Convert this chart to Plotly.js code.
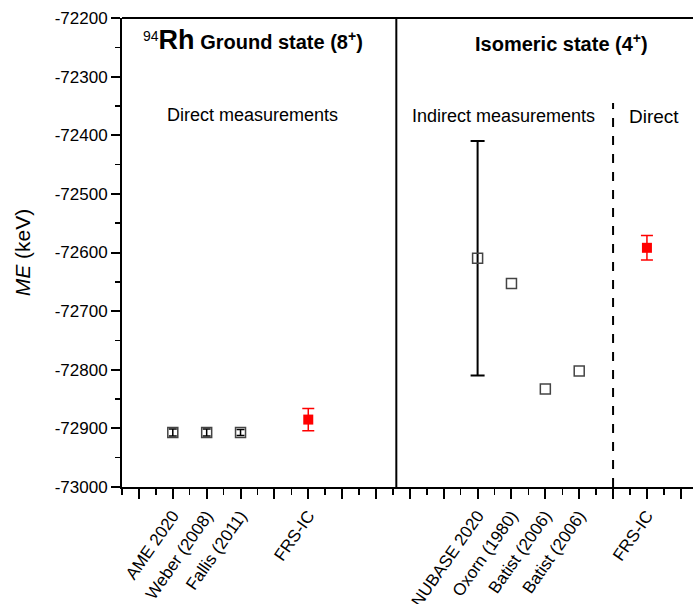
<!DOCTYPE html>
<html>
<head>
<meta charset="utf-8">
<script src="https://cdn.plot.ly/plotly-3.0.1.min.js"></script>
<style>html,body{margin:0;padding:0;background:#fff;}#chart{width:693px;height:604px;}</style>
</head>
<body>
<div id="chart"></div>
<script>
// Ground state (8+) - direct measurements
const groundX = [2, 3, 4];
const groundLabels = ["AME 2020", "Weber (2008)", "Fallis (2011)"];
const groundME = [-72907, -72907, -72907];
const groundErr = [6, 6, 5];
const groundFrsX = [6];
const groundFrsME = [-72885];
const groundFrsErr = [19];

// Isomeric state (4+) - indirect measurements
const isoX = [11, 12, 13, 14];
const isoLabels = ["NUBASE 2020", "Oxorn (1980)", "Batist (2006)", "Batist (2006)"];
const isoME = [-72610, -72653, -72833, -72802];
const isoErr = [200, 0, 0, 0];
const isoFrsX = [16];
const isoFrsME = [-72592];
const isoFrsErr = [21];

const frsLabel = "FRS-IC";

// y tick values
const yTicks = [-73000, -72900, -72800, -72700, -72600, -72500, -72400, -72300, -72200];
const yTickText = ["-73000", "-72900", "-72800", "-72700", "-72600", "-72500", "-72400", "-72300", "-72200"];

// x tick labels
const tickVals = [];
const tickText = [];
for (let i = 1; i <= 17; i++) {
  tickVals.push(i);
  let t = "";
  const gi = groundX.indexOf(i); if (gi >= 0) t = groundLabels[gi];
  const ii = isoX.indexOf(i); if (ii >= 0) t = isoLabels[ii];
  if (groundFrsX.includes(i) || isoFrsX.includes(i)) t = frsLabel;
  tickText.push(t);
}

// split isomer points into those with / without error bars
const isoWithErr = {x: [], y: [], e: []};
const isoNoErr = {x: [], y: []};
isoX.forEach((x, i) => {
  if (isoErr[i] > 0) { isoWithErr.x.push(x); isoWithErr.y.push(isoME[i]); isoWithErr.e.push(isoErr[i]); }
  else { isoNoErr.x.push(x); isoNoErr.y.push(isoME[i]); }
});

const openMarker = {symbol: "square-open", size: 10, color: "#444", line: {width: 1.5, color: "#444"}};
const redMarker = {symbol: "square", size: 10, color: "#ff0000"};

const traces = [
  {x: groundX, y: groundME, type: "scatter", mode: "markers", marker: openMarker,
   error_y: {type: "data", array: groundErr, visible: true, color: "#000", thickness: 1.5, width: 4}},
  {x: groundFrsX, y: groundFrsME, type: "scatter", mode: "markers", marker: redMarker,
   error_y: {type: "data", array: groundFrsErr, visible: true, color: "#ff0000", thickness: 1.5, width: 6}},
  {x: isoWithErr.x, y: isoWithErr.y, type: "scatter", mode: "markers", marker: openMarker,
   error_y: {type: "data", array: isoWithErr.e, visible: true, color: "#000", thickness: 2, width: 7}},
  {x: isoNoErr.x, y: isoNoErr.y, type: "scatter", mode: "markers", marker: openMarker},
  {x: isoFrsX, y: isoFrsME, type: "scatter", mode: "markers", marker: redMarker,
   error_y: {type: "data", array: isoFrsErr, visible: true, color: "#ff0000", thickness: 1.5, width: 6}}
];

const F = "Liberation Sans, Arial, sans-serif";
const layout = {
  width: 693, height: 604,
  margin: {l: 122, r: 0, t: 18, b: 117},
  paper_bgcolor: "#fff", plot_bgcolor: "#fff",
  showlegend: false,
  font: {family: F, color: "#000"},
  xaxis: {
    range: [0.5, 17.36], showgrid: false, zeroline: false,
    showline: true, linecolor: "#000", linewidth: 2,
    tickmode: "array", tickvals: tickVals, ticktext: tickText,
    ticks: "outside", ticklen: 10, tickwidth: 2, tickcolor: "#000",
    tickangle: -55, tickfont: {size: 17, family: F, color: "#000"},
    minor: {tickmode: "linear", tick0: 0.5, dtick: 1, ticks: "outside", ticklen: 6, tickwidth: 1.5, tickcolor: "#000"}
  },
  yaxis: {
    range: [-73000, -72200], showgrid: false, zeroline: false,
    showline: true, linecolor: "#000", linewidth: 2,
    tickmode: "array", tickvals: yTicks, ticktext: yTickText,
    ticks: "outside", ticklen: 9, tickwidth: 2, tickcolor: "#000",
    tickfont: {size: 17, family: F, color: "#000"},
    minor: {tickmode: "linear", tick0: -73000, dtick: 50, ticks: "outside", ticklen: 5, tickwidth: 1.5, tickcolor: "#000"},
    title: {text: "<i>ME</i> (keV)", font: {size: 21, family: F, color: "#000"}, standoff: 18}
  },
  shapes: [
    {type: "line", xref: "paper", yref: "paper", x0: 0, x1: 1, y0: 1, y1: 1, line: {color: "#000", width: 2}},
    {type: "line", xref: "x", yref: "paper", x0: 8.6, x1: 8.6, y0: 0, y1: 1, line: {color: "#000", width: 2}},
    {type: "line", xref: "x", yref: "y", x0: 15, x1: 15, y0: -73000, y1: -72345, line: {color: "#000", width: 2, dash: "dash"}}
  ],
  annotations: [
    {xref: "paper", yref: "paper", x: 0.2294, y: 0.953, showarrow: false, xanchor: "center", yanchor: "middle",
     text: "<sup style='font-size:14px'>94</sup><b><span style='font-size:27px'>Rh</span> Ground state (8<sup>+</sup>)</b>",
     font: {size: 20, family: F, color: "#000"}},
    {xref: "paper", yref: "paper", x: 0.2294, y: 0.793, showarrow: false, xanchor: "center", yanchor: "middle",
     text: "Direct measurements", font: {size: 18, family: F, color: "#000"}},
    {xref: "paper", yref: "paper", x: 0.770, y: 0.947, showarrow: false, xanchor: "center", yanchor: "middle",
     text: "<b>Isomeric state (4<sup>+</sup>)</b>", font: {size: 20, family: F, color: "#000"}},
    {xref: "paper", yref: "paper", x: 0.669, y: 0.790, showarrow: false, xanchor: "center", yanchor: "middle",
     text: "Indirect measurements", font: {size: 18, family: F, color: "#000"}},
    {xref: "paper", yref: "paper", x: 0.931, y: 0.790, showarrow: false, xanchor: "center", yanchor: "middle",
     text: "Direct", font: {size: 19, family: F, color: "#000"}}
  ]
};

Plotly.newPlot("chart", traces, layout, {displayModeBar: false, staticPlot: true});
</script>
</body>
</html>
